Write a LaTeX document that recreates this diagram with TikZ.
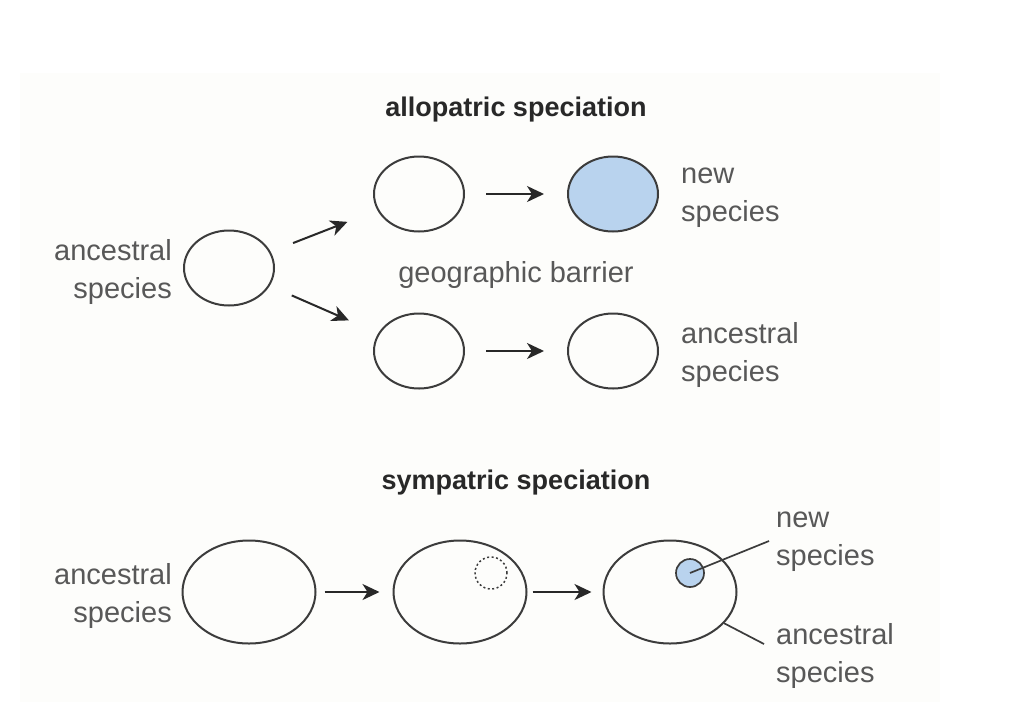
\documentclass[tikz,border=0pt]{standalone}
\usepackage{fontspec}
\setmainfont{Liberation Sans}
\usetikzlibrary{shapes.geometric,arrows.meta}
\definecolor{panel}{RGB}{253,253,251}
\definecolor{txtgray}{RGB}{88,88,88}
\definecolor{titlecol}{RGB}{40,40,40}
\definecolor{strokecol}{RGB}{60,60,60}
\definecolor{bluefill}{RGB}{185,211,238}
\begin{document}
\begin{tikzpicture}[x=1pt,y=-1pt,
  lbl/.style={text=txtgray,font=\fontsize{29}{38}\selectfont,inner sep=0pt},
  ttl/.style={text=titlecol,font=\fontsize{27}{32}\selectfont\bfseries,inner sep=0pt},
  sm/.style={ellipse,draw=strokecol,line width=2pt,minimum width=90pt,minimum height=75pt,inner sep=0pt},
  big/.style={ellipse,draw=strokecol,line width=2pt,minimum width=133pt,minimum height=103pt,inner sep=0pt},
  arr/.style={draw=titlecol,line width=2pt,-{Stealth[length=17pt,width=16pt,inset=5pt]}},
  leader/.style={draw=strokecol,line width=1.7pt}]
\useasboundingbox (0,0) rectangle (1016,702);
\fill[panel] (20,73) rectangle (940,702);

% allopatric
\node[ttl] (t1) at (516,110) {allopatric speciation};
\node[sm] (anc) at (229,268) {};
\node[lbl,align=right,anchor=east] (ancl) at (172,272) {ancestral\\species};
\node[sm] (u1) at (419,194) {};
\node[sm,fill=bluefill] (u2) at (613,194) {};
\node[sm] (d1) at (419,351) {};
\node[sm] (d2) at (613,351) {};
\node[lbl,align=left,anchor=west] (newl) at (681,198) {new\\species};
\node[lbl,align=left,anchor=west] (ancr) at (681,355) {ancestral\\species};
\node[lbl] (geo) at (516,275) {geographic barrier};
\draw[arr,shorten <=24pt,shorten >=32pt] (anc) -- (u1);
\draw[arr,shorten <=24pt,shorten >=32pt] (anc) -- (d1);
\draw[arr,shorten <=21pt,shorten >=23pt] (u1) -- (u2);
\draw[arr,shorten <=21pt,shorten >=23pt] (d1) -- (d2);

% sympatric
\node[ttl] (t2) at (516,483) {sympatric speciation};
\node[big] (s1) at (249,592) {};
\node[lbl,align=right,anchor=east] (sancl) at (172,596) {ancestral\\species};
\node[big] (s2) at (460,592) {};
\node[circle,draw=strokecol,line width=1.5pt,dash pattern=on 2pt off 2.5pt,minimum size=32pt,inner sep=0pt] (dot) at (491,573) {};
\node[big] (s3) at (670,592) {};
\node[circle,draw=strokecol,fill=bluefill,line width=1.7pt,minimum size=28pt,inner sep=0pt] (nb) at (690,573) {};
\draw[arr,shorten <=8pt,shorten >=13pt] (s1) -- (s2);
\draw[arr,shorten <=5pt,shorten >=11pt] (s2) -- (s3);
\node[lbl,align=left,anchor=west] (snew) at (776,542) {new\\species};
\node[lbl,align=left,anchor=west] (sanc) at (776,656) {ancestral\\species};
\coordinate (c1) at (769,541);
\coordinate (c2) at (764,644);
\draw[leader] (nb.center) -- (c1);
\draw[leader] (s3.-30) -- (c2);
\end{tikzpicture}
\end{document}
